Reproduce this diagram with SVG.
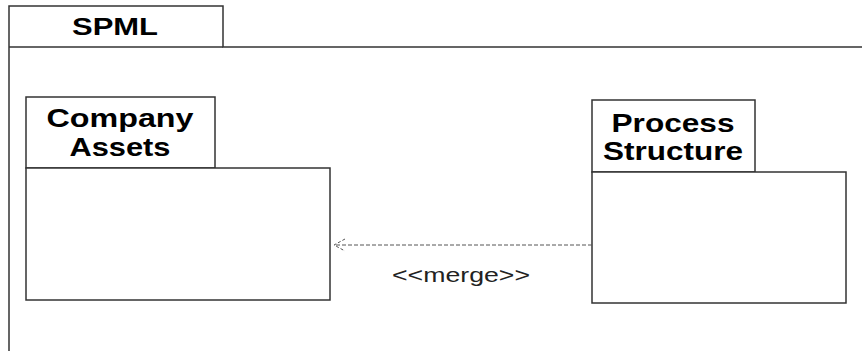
<svg xmlns="http://www.w3.org/2000/svg" width="862" height="351" viewBox="0 0 862 351">
<style>
.box{fill:#fff;stroke:#333;stroke-width:1.5}
.t{font-family:"Liberation Sans",Arial,sans-serif;font-weight:bold;font-size:26px;fill:#000;text-anchor:middle}
.lbl{font-family:"Liberation Sans",Arial,sans-serif;font-size:20px;fill:#222;text-anchor:middle}
.dash{fill:none;stroke:#555;stroke-width:1;stroke-dasharray:4 2}
</style>
<rect width="862" height="351" fill="#fff"/>
<g id="spml">
<path class="box" d="M9,351 V6 H223 V47 H862" fill="none"/>
<line x1="9" y1="47" x2="223" y2="47" stroke="#333" stroke-width="1.5"/>
<text class="t" x="115" y="35" style="font-size:23px" textLength="86" lengthAdjust="spacingAndGlyphs">SPML</text>
</g>
<g id="company-assets">
<rect class="box" x="26" y="97" width="189" height="71"/>
<rect class="box" x="26" y="168" width="304" height="132"/>
<text class="t" x="120" y="127" textLength="147" lengthAdjust="spacingAndGlyphs">Company</text>
<text class="t" x="120" y="156" textLength="101" lengthAdjust="spacingAndGlyphs">Assets</text>
</g>
<g id="process-structure">
<rect class="box" x="592" y="100" width="163" height="72"/>
<rect class="box" x="592" y="172" width="254" height="131"/>
<text class="t" x="673" y="132" textLength="123" lengthAdjust="spacingAndGlyphs">Process</text>
<text class="t" x="673" y="160" textLength="140" lengthAdjust="spacingAndGlyphs">Structure</text>
</g>
<g id="connectors">
<line class="dash" x1="592" y1="245" x2="334" y2="245"/>
<path d="M345,239 L334,245 L345,251" fill="none" stroke="#555" stroke-width="1" stroke-dasharray="3 2"/>
<text class="lbl" x="461" y="282" textLength="138" lengthAdjust="spacingAndGlyphs">&lt;&lt;merge&gt;&gt;</text>
</g>
</svg>
